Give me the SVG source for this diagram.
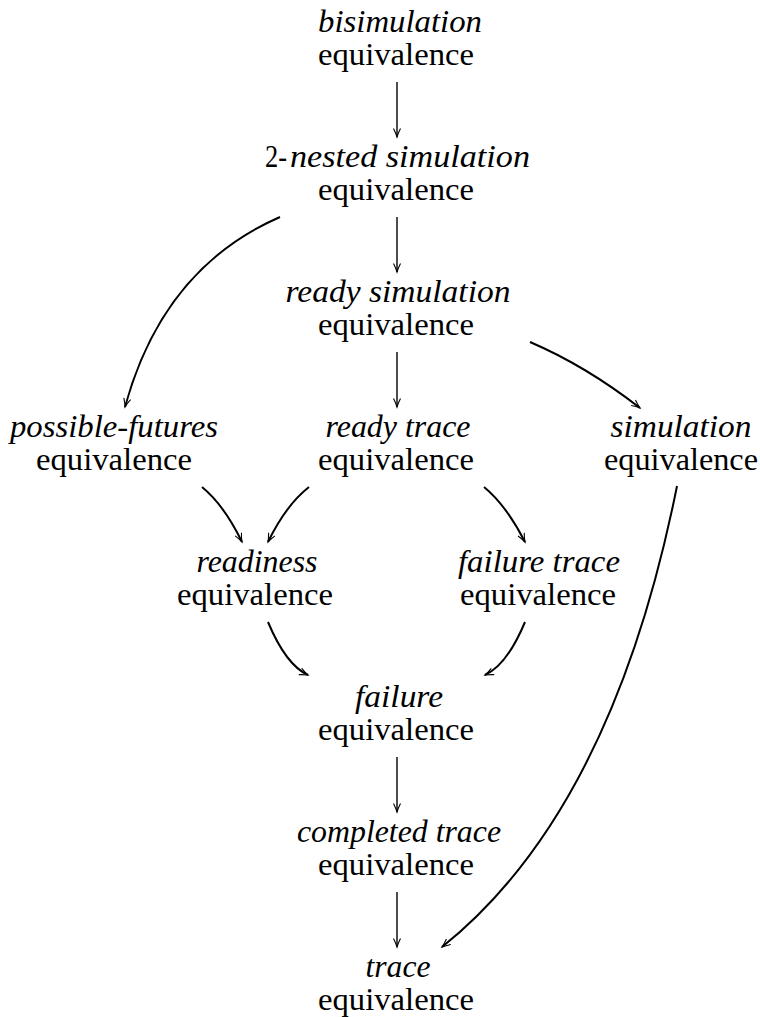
<svg xmlns="http://www.w3.org/2000/svg" width="760" height="1017" viewBox="0 0 760 1017">
<style>
text{font-family:'Liberation Serif',Tinos,'Noto Serif','DejaVu Serif',FreeSerif,Times,'Times New Roman',serif;font-size:31px;fill:#000;text-anchor:middle}
.i{font-style:italic}
.s{text-anchor:start}
.e{stroke:#000;fill:none;stroke-width:1.4}
.c{stroke:#000;fill:none;stroke-width:2}
</style>
<defs>
<marker id="ah" markerWidth="12" markerHeight="10" refX="9" refY="4" orient="auto" markerUnits="userSpaceOnUse">
<path d="M0.5,0.5 Q5,2.8 9,4 Q5,5.2 0.5,7.5" fill="none" stroke="#000" stroke-width="1.1"/>
</marker>
</defs>
<rect width="760" height="1017" fill="#fff"/>
<g id="n-bisim"><text class="i" x="400" y="32" textLength="164" lengthAdjust="spacingAndGlyphs">bisimulation</text><text x="396" y="65" textLength="156" lengthAdjust="spacingAndGlyphs">equivalence</text></g>
<g id="n-nested"><text class="s" x="265" y="167" textLength="22" lengthAdjust="spacingAndGlyphs">2-</text><text class="i s" x="290" y="167" textLength="240" lengthAdjust="spacingAndGlyphs">nested simulation</text><text x="396" y="200" textLength="156" lengthAdjust="spacingAndGlyphs">equivalence</text></g>
<g id="n-readysim"><text class="i" x="398" y="302" textLength="225" lengthAdjust="spacingAndGlyphs">ready simulation</text><text x="396" y="335" textLength="156" lengthAdjust="spacingAndGlyphs">equivalence</text></g>
<g id="n-pf"><text class="i" x="114" y="437" textLength="208" lengthAdjust="spacingAndGlyphs">possible-futures</text><text x="114" y="470" textLength="156" lengthAdjust="spacingAndGlyphs">equivalence</text></g>
<g id="n-readytrace"><text class="i" x="398" y="437" textLength="145" lengthAdjust="spacingAndGlyphs">ready trace</text><text x="396" y="470" textLength="156" lengthAdjust="spacingAndGlyphs">equivalence</text></g>
<g id="n-sim"><text class="i" x="681" y="437" textLength="141" lengthAdjust="spacingAndGlyphs">simulation</text><text x="681" y="470" textLength="154" lengthAdjust="spacingAndGlyphs">equivalence</text></g>
<g id="n-readiness"><text class="i" x="257" y="572" textLength="121" lengthAdjust="spacingAndGlyphs">readiness</text><text x="255" y="605" textLength="156" lengthAdjust="spacingAndGlyphs">equivalence</text></g>
<g id="n-failtrace"><text class="i" x="539" y="572" textLength="162" lengthAdjust="spacingAndGlyphs">failure trace</text><text x="538" y="605" textLength="156" lengthAdjust="spacingAndGlyphs">equivalence</text></g>
<g id="n-failure"><text class="i" x="399" y="707" textLength="88" lengthAdjust="spacingAndGlyphs">failure</text><text x="396" y="740" textLength="156" lengthAdjust="spacingAndGlyphs">equivalence</text></g>
<g id="n-completed"><text class="i" x="399" y="842" textLength="204" lengthAdjust="spacingAndGlyphs">completed trace</text><text x="396" y="875" textLength="156" lengthAdjust="spacingAndGlyphs">equivalence</text></g>
<g id="n-trace"><text class="i" x="398" y="977" textLength="65" lengthAdjust="spacingAndGlyphs">trace</text><text x="396" y="1010" textLength="156" lengthAdjust="spacingAndGlyphs">equivalence</text></g>
<g id="connectors">
<path class="e" d="M397,82 L397,137" marker-end="url(#ah)"/>
<path class="e" d="M397,217 L397,272" marker-end="url(#ah)"/>
<path class="e" d="M397,352 L397,407" marker-end="url(#ah)"/>
<path class="e" d="M397,757 L397,812" marker-end="url(#ah)"/>
<path class="e" d="M397,892 L397,947" marker-end="url(#ah)"/>
<path class="c" d="M280,217 Q163,268 125,407" marker-end="url(#ah)"/>
<path class="c" d="M530,342 Q586,366 640,408" marker-end="url(#ah)"/>
<path class="c" d="M202,487 Q224,505 242,542" marker-end="url(#ah)"/>
<path class="c" d="M309,487 Q286,505 268,542" marker-end="url(#ah)"/>
<path class="c" d="M484,487 Q506,505 525,542" marker-end="url(#ah)"/>
<path class="c" d="M268,622 Q286,665 308,675" marker-end="url(#ah)"/>
<path class="c" d="M525,622 Q507,665 485,675" marker-end="url(#ah)"/>
<path class="c" d="M677,486 Q612,811 442,947" marker-end="url(#ah)"/>
</g>
</svg>
